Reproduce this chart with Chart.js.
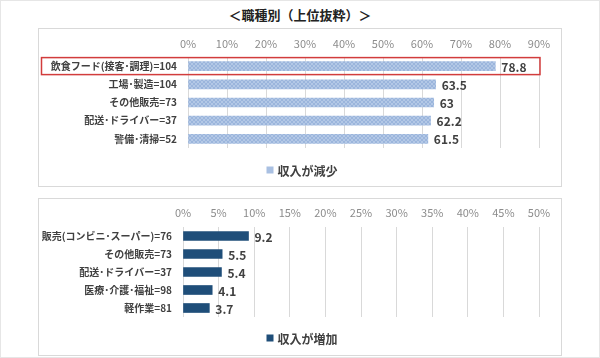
<!DOCTYPE html>
<html>
<head>
<meta charset="utf-8">
<script src="https://cdn.jsdelivr.net/npm/chart.js@4.4.1/dist/chart.umd.min.js"></script>
<style>
  html, body { margin: 0; padding: 0; background: #fff; }
  body { width: 600px; height: 358px; position: relative; overflow: hidden; font-family: "Noto Sans CJK JP", sans-serif; }
  #frame { position: absolute; left: 0; top: 0; width: 598px; height: 356px; border: 1px solid #e6e6e6; }
  #title { position: absolute; left: 0; top: 6px; width: 600px; text-align: center; font-size: 13px; font-weight: bold; color: #222; line-height: 18px; font-family: "Noto Sans CJK JP", serif; }
  .panel { position: absolute; left: 38px; width: 522px; border: 1px solid #d9d9d9; background: #fff; }
  #p1 { top: 28px; height: 157px; }
  #p2 { top: 198px; height: 156px; }
  canvas { display: block; }
</style>
</head>
<body>
<div id="frame"></div>
<div id="title">＜職種別（上位抜粋）＞</div>
<div class="panel" id="p1"><canvas id="c1" width="522" height="157"></canvas></div>
<div class="panel" id="p2"><canvas id="c2" width="522" height="156"></canvas></div>
<script>
// ---- data ----
const decreaseCategories = ["飲食フード(接客･調理)=104", "工場･製造=104", "その他販売=73", "配送･ドライバー=37", "警備･清掃=52"];
const decreaseValues = [78.8, 63.5, 63, 62.2, 61.5];
const decreaseLabel = "収入が減少";
const decreaseTicks = { min: 0, max: 90, step: 10 };

const increaseCategories = ["販売(コンビニ･スーパー)=76", "その他販売=73", "配送･ドライバー=37", "医療･介護･福祉=98", "軽作業=81"];
const increaseValues = [9.2, 5.5, 5.4, 4.1, 3.7];
const increaseLabel = "収入が増加";
const increaseTicks = { min: 0, max: 50, step: 5 };

const FONT = '"Noto Sans CJK JP", sans-serif';

function makePattern() {
  const c = document.createElement('canvas');
  c.width = 4; c.height = 4;
  const g = c.getContext('2d');
  g.fillStyle = '#b3c8e6'; g.fillRect(0, 0, 4, 4);
  g.fillStyle = '#9bb5dc'; g.fillRect(0, 0, 2, 2); g.fillRect(2, 2, 2, 2);
  return g.createPattern(c, 'repeat');
}

const valueLabels = {
  id: 'valueLabels',
  afterDatasetsDraw(chart) {
    const ctx = chart.ctx;
    const meta = chart.getDatasetMeta(0);
    ctx.save();
    ctx.font = 'bold 12px ' + FONT;
    ctx.fillStyle = '#404040';
    ctx.textBaseline = 'middle';
    ctx.textAlign = 'left';
    meta.data.forEach((bar, i) => {
      ctx.fillText(String(chart.data.datasets[0].data[i]), bar.x + 6, bar.y + 1);
    });
    ctx.restore();
  }
};

const customLegend = {
  id: 'customLegend',
  afterDraw(chart, args, opts) {
    const ctx = chart.ctx;
    const ds = chart.data.datasets[0];
    ctx.save();
    ctx.font = 'bold 12px ' + FONT;
    const tw = ctx.measureText(ds.label).width;
    const total = 7 + 4 + tw;
    const cx = chart.width / 2 + 2;
    const x0 = cx - total / 2;
    const y = opts.y;
    ctx.fillStyle = opts.color;
    ctx.fillRect(x0, y - 3.5, 7, 7);
    ctx.fillStyle = '#404040';
    ctx.textBaseline = 'middle';
    ctx.fillText(ds.label, x0 + 11, y + 1);
    ctx.restore();
  }
};

const highlight = {
  id: 'highlight',
  afterDraw(chart, args, opts) {
    if (!opts.enabled) return;
    const ctx = chart.ctx;
    const y = chart.scales.y.getPixelForValue(0);
    const xr = chart.scales.x.getPixelForValue(90) + 1;
    ctx.save();
    ctx.strokeStyle = '#d23c3c';
    ctx.lineWidth = 1.5;
    ctx.strokeRect(2.5, y - 8.5, xr - 2.5, 17);
    ctx.restore();
  }
};

function build(id, cats, vals, label, color, ticks, dims) {
  return new Chart(document.getElementById(id), {
    type: 'bar',
    data: {
      labels: cats,
      datasets: [{ label: label, data: vals, backgroundColor: color, barThickness: 9, borderWidth: 0 }]
    },
    options: {
      indexAxis: 'y',
      responsive: false,
      animation: false,
      layout: { padding: { left: 0, top: 0, right: 522 - dims.right, bottom: dims.h - dims.bottom } },
      scales: {
        x: {
          position: 'top',
          min: ticks.min, max: ticks.max,
          afterFit(s) { s.height = dims.top; },
          ticks: { stepSize: ticks.step, callback: v => v + '%', color: '#8c8c8c', font: { family: FONT, size: 11 }, padding: dims.tickPad, maxRotation: 0 },
          grid: { color: '#d9d9d9', lineWidth: 1, drawTicks: false },
          border: { display: false }
        },
        y: {
          afterFit(s) { s.width = dims.left; },
          ticks: { color: '#404040', font: { family: FONT, size: 10, weight: 'bold' }, padding: 11 },
          grid: { display: false, drawTicks: false },
          border: { display: false }
        }
      },
      plugins: {
        legend: { display: false },
        tooltip: { enabled: false },
        customLegend: { y: dims.legendY, color: dims.legendColor },
        highlight: { enabled: dims.highlight }
      }
    },
    plugins: [valueLabels, customLegend, highlight]
  });
}

build('c1', decreaseCategories, decreaseValues, decreaseLabel, makePattern(), decreaseTicks,
  { left: 149, right: 500, top: 28, bottom: 119, h: 157, tickPad: 7, legendY: 141, legendColor: '#a9c0e2', highlight: true });
build('c2', increaseCategories, increaseValues, increaseLabel, '#1f4e79', increaseTicks,
  { left: 144, right: 500, top: 28, bottom: 118, h: 156, tickPad: 8, legendY: 139, legendColor: '#1f4e79', highlight: false });
</script>
</body>
</html>
